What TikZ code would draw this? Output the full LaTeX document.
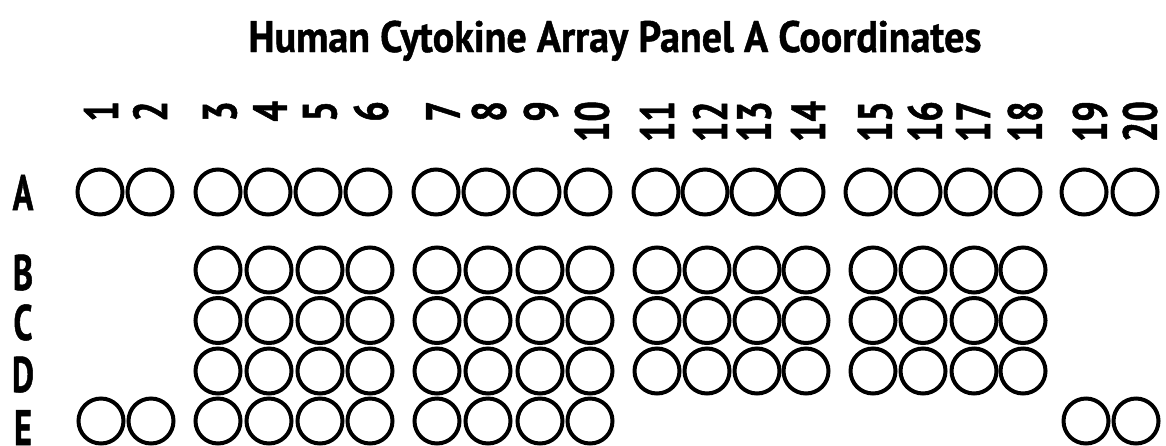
\documentclass[tikz,border=0pt]{standalone}
\usepackage{fontspec}
\newfontfamily\titlefont[FakeStretch=0.91,FakeBold=1]{PT Sans}
\newfontfamily\rowfont[FakeStretch=0.68,FakeBold=1]{PT Sans}
\newfontfamily\colfont[FakeStretch=0.75,FakeBold=1]{PT Sans}
\begin{document}
\begin{tikzpicture}[x=1pt,y=-1pt,
  well/.style={circle,draw=black,line width=4pt,minimum size=45pt,inner sep=0pt},
  rowlab/.style={anchor=base,inner sep=0pt,font={\rowfont\bfseries\fontsize{50}{50}\selectfont}},
  collab/.style={anchor=east,rotate=90,inner sep=0pt,font={\colfont\bfseries\fontsize{48}{48}\selectfont}},
  titlestyle/.style={anchor=base,inner sep=0pt,font={\titlefont\bfseries\fontsize{44}{44}\selectfont}}]
\useasboundingbox (0,0) rectangle (1166,445);
\clip (0,0) rectangle (1166,445);
\node[titlestyle] (title) at (615,52) {Human Cytokine Array Panel A Coordinates};
% row labels
\foreach \r/\y in {A/210,B/290,C/340,D/392,E/445}
  \node[rowlab] (r\r) at (23,\y) {\r};
% column labels
\foreach \c/\x in {1/101,2/150,3/220,4/270,5/320,6/371,7/443,8/489,9/541,10/592,11/657,12/710,13/754,14/808,15/875,16/925,17/973,18/1025,19/1090,20/1140}
  \node[collab] (c\c) at (\x,101) {\c};
% row A
\foreach \c/\x in {1/100,2/150,3/218,4/268,5/318,6/368,7/436,8/486,9/537,10/588,11/656,12/705,13/754,14/801,15/868,16/918,17/968,18/1018,19/1084,20/1135}
  \node[well] (wA\c) at (\x,192) {};
% rows B, C, D
\foreach \r/\y in {B/270,C/320.5,D/371}
  \foreach \c/\x in {3/218,4/269,5/320,6/370,7/437,8/488,9/540,10/590,11/657,12/707,13/757,14/806,15/873,16/923,17/974,18/1023}
    \node[well] (w\r\c) at (\x,\y) {};
% row E
\foreach \c/\x in {1/101,2/151,3/218,4/269,5/320,6/370,7/437,8/488,9/540,10/590,19/1086,20/1136}
  \node[well] (wE\c) at (\x,421) {};
\end{tikzpicture}
\end{document}
